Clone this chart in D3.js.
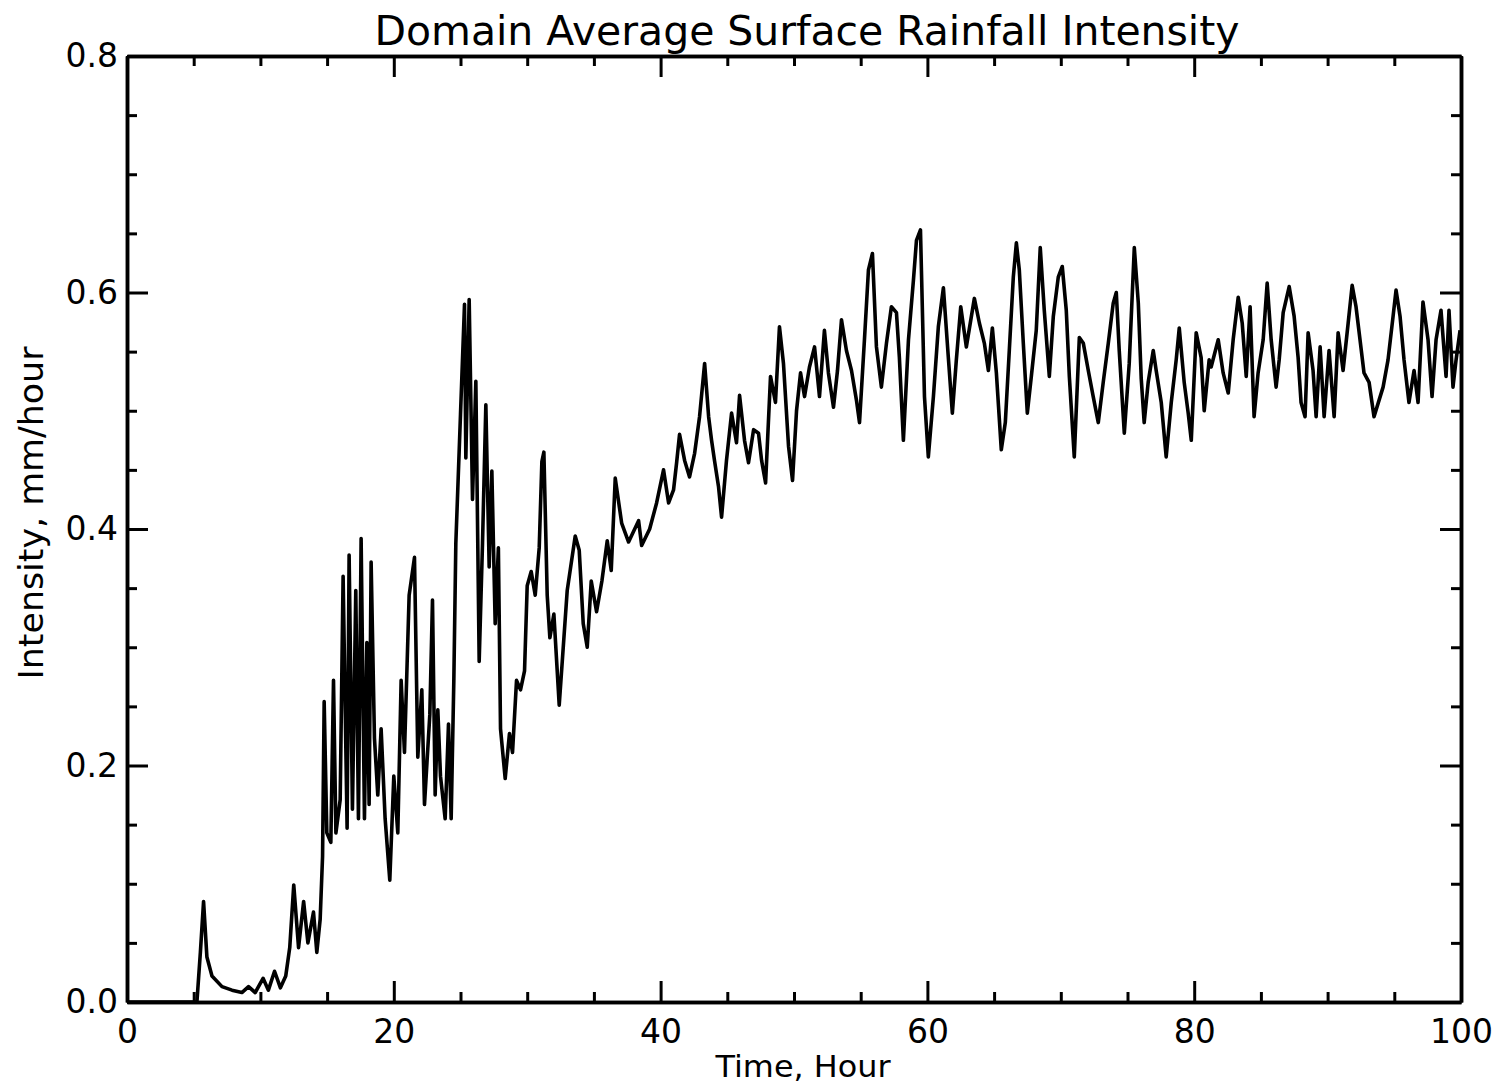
<!DOCTYPE html>
<html>
<head>
<meta charset="utf-8">
<script src="https://cdn.jsdelivr.net/npm/d3@7"></script>
<style>
  html, body { margin: 0; padding: 0; background: #fff; }
  svg { display: block; }
  text { font-family: "DejaVu Sans", "Liberation Sans", sans-serif; fill: #000; }
</style>
</head>
<body>
<script>
// Domain-averaged surface rainfall intensity over a 100-hour run
const hours = [
  0, 5.24, 5.5, 5.74, 5.99, 6.37, 7.12, 7.87, 8.61, 9.11, 9.61, 10.2, 10.6, 11.06, 11.5, 11.9,
  12.2, 12.5, 12.86, 13.24, 13.56, 13.98, 14.23, 14.48, 14.66, 14.78, 14.98, 15.28, 15.48, 15.66,
  15.98, 16.2, 16.5, 16.65, 16.9, 17.15, 17.35, 17.55, 17.8, 17.98, 18.15, 18.3, 18.55, 18.8,
  19.05, 19.35, 19.7, 20.0, 20.3, 20.55, 20.8, 21.15, 21.55, 21.8, 22.1, 22.3, 22.7, 22.9, 23.1,
  23.3, 23.5, 23.85, 24.1, 24.3, 24.5, 24.65, 25.0, 25.3, 25.4, 25.65, 25.9, 26.15, 26.4, 26.65,
  26.9, 27.15, 27.35, 27.6, 27.84, 28.0, 28.35, 28.67, 28.9, 29.2, 29.5, 29.8, 30.0, 30.3, 30.6,
  30.9, 31.1, 31.25, 31.5, 31.7, 32.0, 32.4, 33.0, 33.6, 33.9, 34.2, 34.5, 34.8, 35.2, 35.6,
  36.0, 36.3, 36.6, 37.08, 37.6, 38.35, 38.58, 39.18, 39.7, 40.22, 40.6, 40.97, 41.2, 41.42,
  41.8, 42.17, 42.55, 42.92, 43.3, 43.6, 43.82, 44.04, 44.34, 44.57, 44.94, 45.32, 45.69, 45.92,
  46.29, 46.59, 46.97, 47.34, 47.57, 47.87, 48.24, 48.61, 48.91, 49.21, 49.59, 49.89, 50.19,
  50.49, 50.79, 51.16, 51.54, 51.91, 52.28, 52.58, 52.96, 53.26, 53.56, 53.93, 54.31, 54.68,
  54.91, 55.28, 55.58, 55.88, 56.18, 56.55, 56.93, 57.3, 57.68, 57.9, 58.2, 58.58, 58.95, 59.18,
  59.48, 59.78, 60.07, 60.45, 60.82, 61.2, 61.57, 61.87, 62.17, 62.5, 62.92, 63.52, 63.9, 64.27,
  64.57, 64.87, 65.17, 65.54, 65.84, 66.14, 66.44, 66.67, 66.89, 67.19, 67.49, 67.79, 68.16,
  68.46, 68.76, 69.14, 69.44, 69.81, 70.11, 70.41, 70.64, 71.01, 71.39, 71.69, 72.06, 72.43,
  72.81, 73.18, 73.56, 73.93, 74.16, 74.38, 74.76, 75.13, 75.51, 75.81, 76.03, 76.25, 76.55,
  76.93, 77.15, 77.53, 77.9, 78.28, 78.65, 78.88, 79.25, 79.55, 79.78, 80.15, 80.52, 80.75,
  81.12, 81.27, 81.8, 82.17, 82.55, 82.92, 83.3, 83.6, 83.9, 84.19, 84.49, 84.79, 85.17, 85.47,
  85.77, 86.14, 86.37, 86.67, 87.12, 87.49, 87.79, 88.01, 88.31, 88.54, 88.91, 89.14, 89.44,
  89.74, 90.11, 90.49, 90.79, 91.16, 91.54, 91.84, 92.13, 92.43, 92.73, 93.11, 93.48, 93.86,
  94.16, 94.53, 94.91, 95.13, 95.43, 95.73, 96.1, 96.48, 96.78, 97.15, 97.53, 97.83, 98.13,
  98.5, 98.88, 99.1, 99.4, 99.63, 99.93
];
const intensity = [
  0, 0, 0.042, 0.085, 0.038, 0.022, 0.013, 0.010, 0.008, 0.013, 0.008, 0.020, 0.010, 0.026, 0.012, 0.022,
  0.046, 0.099, 0.046, 0.085, 0.050, 0.076, 0.042, 0.070, 0.123, 0.254, 0.143, 0.135, 0.272, 0.143,
  0.171, 0.360, 0.147, 0.378, 0.163, 0.348, 0.155, 0.392, 0.155, 0.304, 0.167, 0.372, 0.223, 0.175,
  0.231, 0.155, 0.103, 0.191, 0.143, 0.272, 0.211, 0.344, 0.376, 0.207, 0.264, 0.167, 0.243, 0.340, 0.175,
  0.247, 0.191, 0.155, 0.235, 0.155, 0.272, 0.388, 0.497, 0.590, 0.460, 0.594, 0.425, 0.525, 0.288, 0.388,
  0.505, 0.368, 0.449, 0.320, 0.384, 0.231, 0.189, 0.227, 0.211, 0.272, 0.264, 0.280, 0.352, 0.364, 0.344,
  0.384, 0.457, 0.465, 0.344, 0.308, 0.328, 0.251, 0.348, 0.394, 0.382, 0.320, 0.300, 0.356, 0.330, 0.356,
  0.390, 0.365, 0.443, 0.405, 0.389, 0.407, 0.386, 0.400, 0.422, 0.450, 0.422, 0.433, 0.456, 0.480,
  0.458, 0.444, 0.464, 0.495, 0.540, 0.495, 0.475, 0.458, 0.436, 0.410, 0.458, 0.498, 0.473, 0.513,
  0.475, 0.456, 0.484, 0.481, 0.458, 0.439, 0.529, 0.507, 0.571, 0.540, 0.470, 0.441, 0.500,
  0.532, 0.512, 0.537, 0.554, 0.512, 0.568, 0.532, 0.503, 0.534, 0.577, 0.551, 0.534, 0.509,
  0.490, 0.560, 0.619, 0.633, 0.554, 0.520, 0.557, 0.588, 0.583, 0.545, 0.475, 0.560, 0.610, 0.644,
  0.653, 0.512, 0.461, 0.512, 0.571, 0.604, 0.545, 0.498, 0.543, 0.588, 0.554, 0.595, 0.574, 0.557,
  0.534, 0.570, 0.532, 0.467, 0.490, 0.551, 0.613, 0.642, 0.619, 0.557, 0.498, 0.529, 0.568,
  0.638, 0.585, 0.529, 0.580, 0.613, 0.622, 0.585, 0.529, 0.461, 0.562, 0.557, 0.534, 0.512,
  0.490, 0.524, 0.557, 0.591, 0.600, 0.551, 0.481, 0.540, 0.638, 0.591, 0.527, 0.490, 0.524,
  0.551, 0.534, 0.507, 0.461, 0.507, 0.543, 0.570, 0.524, 0.498, 0.475, 0.566, 0.545, 0.500,
  0.543, 0.537, 0.560, 0.532, 0.515, 0.560, 0.596, 0.574, 0.529, 0.588, 0.495, 0.532, 0.560, 0.608,
  0.560, 0.520, 0.543, 0.583, 0.605, 0.580, 0.545, 0.507, 0.495, 0.566, 0.534, 0.495, 0.554,
  0.495, 0.551, 0.495, 0.566, 0.534, 0.574, 0.606, 0.588, 0.560, 0.532, 0.524, 0.495, 0.509,
  0.520, 0.543, 0.580, 0.602, 0.580, 0.543, 0.507, 0.534, 0.507, 0.592, 0.560, 0.512, 0.560,
  0.585, 0.529, 0.585, 0.520, 0.543, 0.568
];

const xMajorTicks = [0, 20, 40, 60, 80, 100];
const xMinorTicks = [5, 10, 15, 25, 30, 35, 45, 50, 55, 65, 70, 75, 85, 90, 95];
const yMajorTicks = [0.0, 0.2, 0.4, 0.6, 0.8];
const yMinorTicks = [0.05, 0.10, 0.15, 0.25, 0.30, 0.35, 0.45, 0.50, 0.55, 0.65, 0.70, 0.75];

const titleText = "Domain Average Surface Rainfall Intensity";
const xLabelText = "Time,  Hour";
const yLabelText = "Intensity,  mm/hour";

const W = 1496, H = 1086;
const plotLeft = 127, plotRight = 1461, plotTop = 56, plotBottom = 1002;
const majorLen = 21, minorLen = 10, fontSize = 33;

const svg = d3.select("body").append("svg").attr("width", W).attr("height", H);
svg.append("rect").attr("width", W).attr("height", H).attr("fill", "#fff");

const x = d3.scaleLinear().domain([0, 100]).range([plotLeft, plotRight]);
const y = d3.scaleLinear().domain([0, 0.8]).range([plotBottom, plotTop]);

// data trace
const series = hours.map((h, i) => [h, intensity[i]]);
svg.append("path")
  .datum(series)
  .attr("fill", "none")
  .attr("stroke", "#000")
  .attr("stroke-width", 3.6)
  .attr("stroke-linejoin", "round")
  .attr("d", d3.line().x(d => x(d[0])).y(d => y(d[1])));

function styleAxis(g) {
  g.select(".domain").attr("stroke", "#000").attr("stroke-width", 3.5);
  g.selectAll(".tick line").attr("stroke", "#000").attr("stroke-width", 3);
  g.selectAll(".tick text").attr("font-size", fontSize).attr("fill", "#000")
    .attr("font-family", "DejaVu Sans, sans-serif");
}

// bottom axis: labelled major ticks, inward-pointing
svg.append("g").attr("transform", `translate(0,${plotBottom})`)
  .call(d3.axisBottom(x).tickValues(xMajorTicks).tickSizeInner(-majorLen).tickSizeOuter(0)
    .tickPadding(18).tickFormat(d3.format("d")))
  .call(styleAxis);
svg.append("g").attr("transform", `translate(0,${plotBottom})`)
  .call(d3.axisBottom(x).tickValues(xMinorTicks).tickSizeInner(-minorLen).tickSizeOuter(0).tickFormat(""))
  .call(styleAxis);

// top axis: ticks only
svg.append("g").attr("transform", `translate(0,${plotTop})`)
  .call(d3.axisTop(x).tickValues(xMajorTicks).tickSizeInner(-majorLen).tickSizeOuter(0).tickFormat(""))
  .call(styleAxis);
svg.append("g").attr("transform", `translate(0,${plotTop})`)
  .call(d3.axisTop(x).tickValues(xMinorTicks).tickSizeInner(-minorLen).tickSizeOuter(0).tickFormat(""))
  .call(styleAxis);

// left axis
svg.append("g").attr("transform", `translate(${plotLeft},0)`)
  .call(d3.axisLeft(y).tickValues(yMajorTicks).tickSizeInner(-majorLen).tickSizeOuter(0)
    .tickPadding(9).tickFormat(d3.format(".1f")))
  .call(styleAxis);
svg.append("g").attr("transform", `translate(${plotLeft},0)`)
  .call(d3.axisLeft(y).tickValues(yMinorTicks).tickSizeInner(-minorLen).tickSizeOuter(0).tickFormat(""))
  .call(styleAxis);

// right axis
svg.append("g").attr("transform", `translate(${plotRight},0)`)
  .call(d3.axisRight(y).tickValues(yMajorTicks).tickSizeInner(-majorLen).tickSizeOuter(0).tickFormat(""))
  .call(styleAxis);
svg.append("g").attr("transform", `translate(${plotRight},0)`)
  .call(d3.axisRight(y).tickValues(yMinorTicks).tickSizeInner(-minorLen).tickSizeOuter(0).tickFormat(""))
  .call(styleAxis);

// title and axis titles
svg.append("text")
  .attr("x", 807).attr("y", 45)
  .attr("text-anchor", "middle")
  .attr("font-size", 40)
  .attr("textLength", 865).attr("lengthAdjust", "spacingAndGlyphs")
  .text(titleText);

svg.append("text")
  .attr("x", 803).attr("y", 1077)
  .attr("text-anchor", "middle")
  .attr("font-size", 31)
  .attr("textLength", 175).attr("lengthAdjust", "spacingAndGlyphs")
  .text(xLabelText);

svg.append("text")
  .attr("transform", "translate(43,513) rotate(-90)")
  .attr("text-anchor", "middle")
  .attr("font-size", 33)
  .attr("textLength", 333).attr("lengthAdjust", "spacingAndGlyphs")
  .text(yLabelText);
</script>
</body>
</html>
